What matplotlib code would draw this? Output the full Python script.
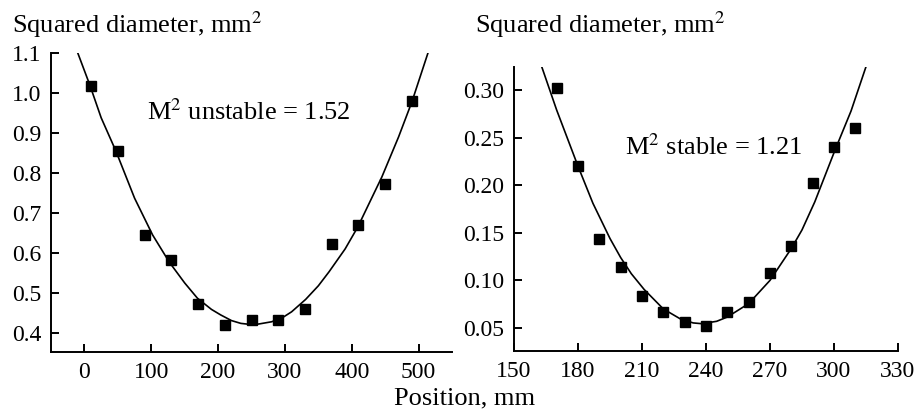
import numpy as np
import matplotlib
matplotlib.use("Agg")
import matplotlib.pyplot as plt
from matplotlib.ticker import FormatStrFormatter

plt.rcParams["font.family"] = ["Liberation Serif", "DejaVu Serif"]
plt.rcParams["mathtext.fontset"] = "stix"

# unstable resonator: measured points and fitted curve
pos_unstable = [10, 50, 90, 130, 170, 210, 250, 290, 330, 370, 410, 450, 490]
d2_unstable = [1.018, 0.854, 0.645, 0.582, 0.473, 0.421, 0.432, 0.432, 0.459,
               0.622, 0.670, 0.772, 0.979]
fit_pos_unstable = [-10, 8, 25, 47, 75, 102, 127, 150, 169, 190, 204, 220, 234,
                    250, 261, 280, 296, 310, 331, 350, 366, 390, 409, 430, 445,
                    470, 490, 514]
fit_d2_unstable = [1.10, 1.02, 0.938, 0.855, 0.737, 0.645, 0.577, 0.525, 0.487,
                   0.459, 0.445, 0.431, 0.424, 0.421, 0.4225, 0.428, 0.438,
                   0.453, 0.484, 0.518, 0.553, 0.610, 0.665, 0.738, 0.790,
                   0.890, 0.978, 1.10]

# stable resonator
pos_stable = [170, 180, 190, 200, 210, 220, 230, 240, 250, 260, 270, 280, 290,
              300, 310]
d2_stable = [0.3025, 0.2204, 0.1433, 0.1145, 0.0833, 0.0665, 0.0567, 0.0521,
             0.0665, 0.0774, 0.1079, 0.1359, 0.2018, 0.2397, 0.260]
fit_pos_stable = [163, 170, 180, 187, 195, 200, 205, 211, 220, 228, 234, 238,
                  245, 250, 260, 270, 280, 285, 291, 300.5, 308, 315]
fit_d2_stable = [0.3245, 0.279, 0.220, 0.181, 0.144, 0.124, 0.107, 0.0905,
                 0.0700, 0.0595, 0.0553, 0.0545, 0.0570, 0.0615, 0.0756,
                 0.100, 0.1335, 0.153, 0.1825, 0.237, 0.278, 0.3245]

TICK_FS = 17
LABEL_FS = 19


def style_axes(ax):
    for side in ("top", "right"):
        ax.spines[side].set_visible(False)
    for side in ("left", "bottom"):
        ax.spines[side].set_linewidth(1.4)
    ax.tick_params(direction="in", length=6, width=1.4, labelsize=TICK_FS, pad=7)


def draw_panel(ax, x, y, fx, fy):
    ax.plot(fx, fy, color="black", lw=1.2, zorder=2)
    ax.plot(x, y, "s", color="black", markersize=6.5, zorder=3, clip_on=False)


def main():
    fig = plt.figure(figsize=(9.18, 4.09), dpi=100)

    ax1 = fig.add_axes([0.0556, 0.1394, 0.4368, 0.7311])
    draw_panel(ax1, pos_unstable, d2_unstable, fit_pos_unstable, fit_d2_unstable)
    ax1.set_xlim(-50, 550)
    ax1.set_ylim(0.3525, 1.1)
    ax1.set_xticks([0, 100, 200, 300, 400, 500])
    ax1.set_yticks([0.4, 0.5, 0.6, 0.7, 0.8, 0.9, 1.0, 1.1])
    ax1.yaxis.set_major_formatter(FormatStrFormatter("%.1f"))
    style_axes(ax1)
    ax1.text(94, 0.9325, r"M$^2$ unstable = 1.52", fontsize=LABEL_FS,
             va="baseline", ha="left")

    ax2 = fig.add_axes([0.5599, 0.1418, 0.4183, 0.6944])
    draw_panel(ax2, pos_stable, d2_stable, fit_pos_stable, fit_d2_stable)
    ax2.set_xlim(150, 330)
    ax2.set_ylim(0.0258, 0.3242)
    ax2.set_xticks([150, 180, 210, 240, 270, 300, 330])
    ax2.set_yticks([0.05, 0.10, 0.15, 0.20, 0.25, 0.30])
    ax2.yaxis.set_major_formatter(FormatStrFormatter("%.2f"))
    style_axes(ax2)
    ax2.text(202, 0.2316, r"M$^2$ stable = 1.21", fontsize=LABEL_FS,
             va="baseline", ha="left")

    fig.text(12 / 918, 1 - 33 / 409, r"Squared diameter, mm$^2$",
             fontsize=LABEL_FS, va="baseline", ha="left")
    fig.text(475 / 918, 1 - 33 / 409, r"Squared diameter, mm$^2$",
             fontsize=LABEL_FS, va="baseline", ha="left")
    fig.text(465 / 918, 1 - 404 / 409, "Position, mm", fontsize=LABEL_FS,
             va="baseline", ha="center")

    fig.savefig("out.png", dpi=100)


if __name__ == "__main__":
    main()
